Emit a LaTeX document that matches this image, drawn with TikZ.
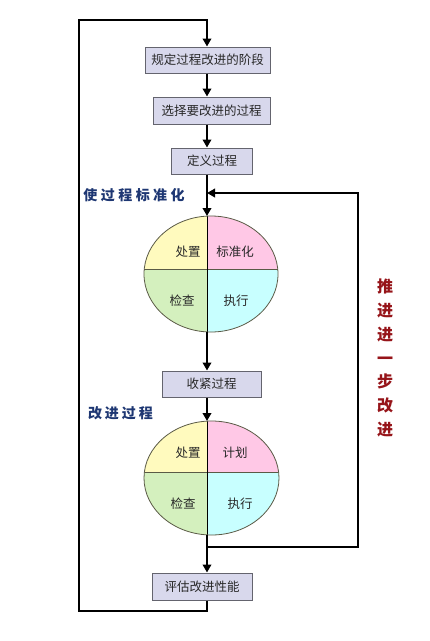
\documentclass[tikz,border=0pt]{standalone}
\usepackage{fontspec}
\newfontfamily\cjk{Noto Sans CJK SC}
\usetikzlibrary{arrows.meta,shapes.geometric,calc}
\definecolor{boxfill}{RGB}{216,216,236}
\definecolor{boxline}{RGB}{100,100,110}
\definecolor{qyellow}{RGB}{255,250,190}
\definecolor{qpink}{RGB}{255,200,230}
\definecolor{qgreen}{RGB}{212,240,190}
\definecolor{qcyan}{RGB}{200,255,255}
\definecolor{ellline}{RGB}{90,90,70}
\definecolor{lblblue}{RGB}{30,55,115}
\definecolor{lblred}{RGB}{150,20,25}
\definecolor{txtgray}{RGB}{40,40,40}
\tikzset{
  stepbox/.style={draw=boxline, line width=1pt, fill=boxfill, inner sep=0pt,
    font=\cjk\fontsize{12.5}{14}\selectfont, text=txtgray},
  flow/.style={line width=2.8pt, draw=black, -{Triangle[length=8pt,width=8.5pt]}},
  loopline/.style={line width=2.8pt, draw=black},
  quadtext/.style={font=\cjk\fontsize{12.5}{14}\selectfont, text=txtgray},
  pdcael/.style={ellipse, draw=ellline, line width=0.8pt, inner sep=0pt},
}
\begin{document}
\begin{tikzpicture}[x=1pt,y=-1pt]
\useasboundingbox[fill=white] (0,0) rectangle (430,641);
% boxes
\node[stepbox, minimum width=125pt, minimum height=26pt] (b1) at (207.5,60) {规定过程改进的阶段};
\node[stepbox, minimum width=117pt, minimum height=27pt] (b2) at (211.5,110.5) {选择要改进的过程};
\node[stepbox, minimum width=81pt, minimum height=26pt] (b3) at (212,161) {定义过程};
\node[stepbox, minimum width=99pt, minimum height=26pt] (b4) at (211.5,384) {收紧过程};
\node[stepbox, minimum width=100pt, minimum height=27pt] (b5) at (202,586.5) {评估改进性能};
% spine
\coordinate (sp) at (207,0);
% ellipse 1 quadrants
\begin{scope}
  \clip (211,274) ellipse [x radius=67, y radius=58];
  \fill[qyellow] (100,200) rectangle (207,269);
  \fill[qpink] (207,200) rectangle (300,269);
  \fill[qgreen] (100,269) rectangle (207,350);
  \fill[qcyan] (207,269) rectangle (300,350);
  \draw[ellline, line width=0.8pt] (100,269) -- (300,269);
  \draw[black, line width=1pt] (207,200) -- (207,350);
\end{scope}
\node[pdcael, minimum width=134pt, minimum height=116pt] (e1) at (211,274) {};
\node[quadtext] (e1a) at (188,252) {处置};
\node[quadtext] (e1b) at (235,252) {标准化};
\node[quadtext] (e1c) at (182,301) {检查};
\node[quadtext] (e1d) at (236,301) {执行};
% ellipse 2 quadrants
\begin{scope}
  \clip (211.5,478) ellipse [x radius=67.5, y radius=57];
  \fill[qyellow] (100,400) rectangle (207,472);
  \fill[qpink] (207,400) rectangle (300,472);
  \fill[qgreen] (100,472) rectangle (207,560);
  \fill[qcyan] (207,472) rectangle (300,560);
  \draw[ellline, line width=0.8pt] (100,472) -- (300,472);
  \draw[black, line width=1pt] (207,400) -- (207,560);
\end{scope}
\node[pdcael, minimum width=135pt, minimum height=114pt] (e2) at (211.5,478) {};
\node[quadtext] (e2a) at (188,453) {处置};
\node[quadtext] (e2b) at (235,453) {计划};
\node[quadtext] (e2c) at (183,504) {检查};
\node[quadtext] (e2d) at (240,504) {执行};
% helper coordinates
\coordinate (e1top) at (207,216);
\coordinate (e1bot) at (207,332);
\coordinate (e2top) at (207,421);
\coordinate (e2bot) at (207,535);
\coordinate (lt) at (79,20);
\coordinate (lb) at (79,611);
\coordinate (rb) at (358,547);
\coordinate (rt) at (358,193);
\coordinate (rj) at (207,547);
\coordinate (rin) at (207,193);
% connectors
\draw[flow] (b1.south -| sp) -- (b2.north -| sp);
\draw[flow] (b2.south -| sp) -- (b3.north -| sp);
\draw[flow] (b3.south -| sp) -- (e1top);
\draw[flow] (e1bot) -- (b4.north -| sp);
\draw[flow] (b4.south -| sp) -- (e2top);
\draw[flow] (e2bot) -- (b5.north -| sp);
\draw[loopline, line join=miter] (rj) -- (rb) -- (rt) -- ($(rin)+(2,0)$);
\draw[flow] ($(rt)+(-1,0)$) -- (rin);
\draw[loopline, line join=miter] (b5.south -| sp) -- (lb -| sp) -- (lb) -- (lt) -- (lt -| sp) -- ($(b1.north -| sp)+(0,-8)$);
\draw[flow] ($(b1.north -| sp)+(0,-9)$) -- (b1.north -| sp);
% labels
\node[font=\cjk\bfseries\fontsize{14}{16}\selectfont, text=lblblue] (l1) at (134,195)
  {使\hspace{3.5pt}过\hspace{3.5pt}程\hspace{3.5pt}标\hspace{3.5pt}准\hspace{3.5pt}化};
\node[font=\cjk\bfseries\fontsize{14}{16}\selectfont, text=lblblue] (l2) at (120.5,413)
  {改\hspace{3pt}进\hspace{3pt}过\hspace{3pt}程};
\node[font=\cjk\bfseries\fontsize{16}{23.8}\selectfont, text=lblred, align=center, inner sep=0pt] (l3) at (385,358)
  {推\\进\\进\\一\\步\\改\\进};
\end{tikzpicture}
\end{document}
